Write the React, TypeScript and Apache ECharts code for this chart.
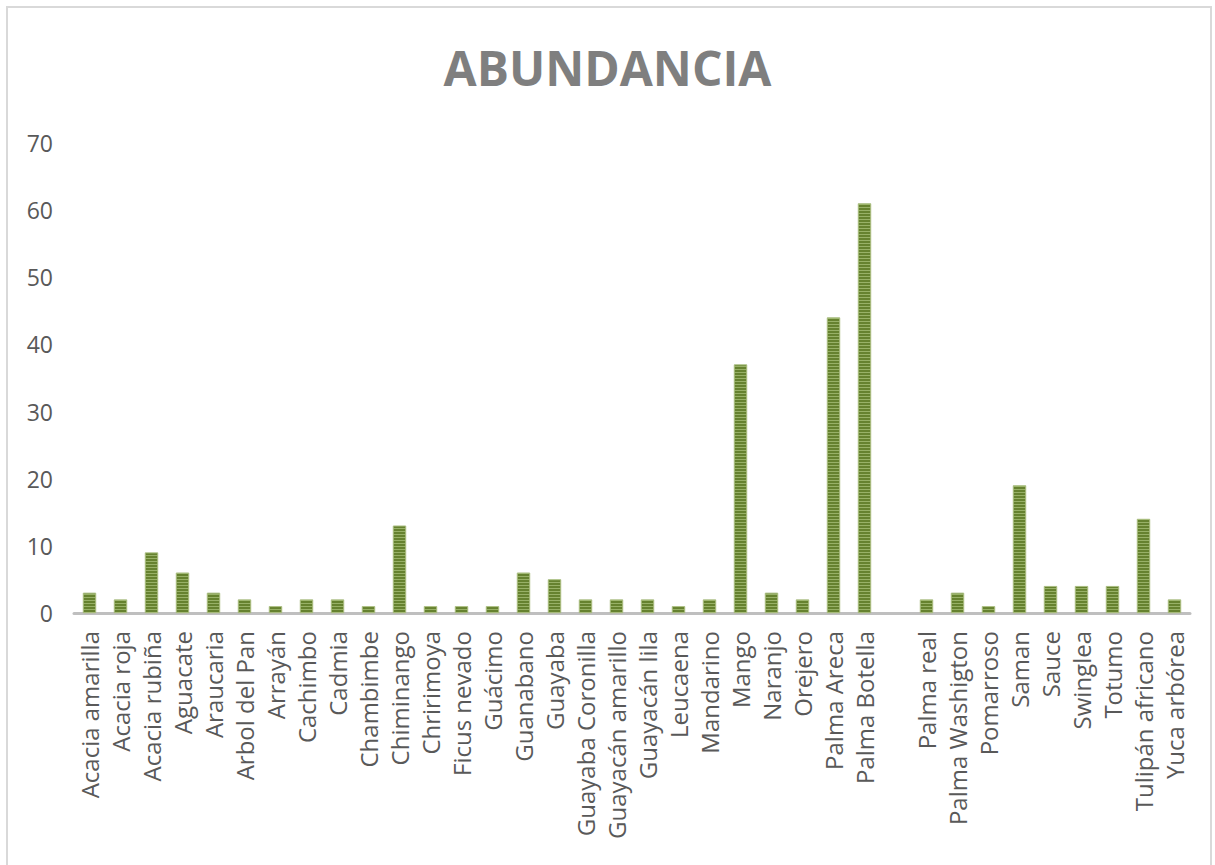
import React, { useEffect, useRef } from "react";
import * as echarts from "echarts";

const categories = [
  "Acacia amarilla", "Acacia roja", "Acacia rubiña", "Aguacate", "Araucaria",
  "Arbol del Pan", "Arrayán", "Cachimbo", "Cadmia", "Chambimbe", "Chiminango",
  "Chririmoya", "Ficus nevado", "Guácimo", "Guanabano", "Guayaba",
  "Guayaba Coronilla", "Guayacán amarillo", "Guayacán lila", "Leucaena",
  "Mandarino", "Mango", "Naranjo", "Orejero", "Palma Areca", "Palma Botella",
  "", "Palma real", "Palma Washigton", "Pomarroso", "Saman", "Sauce",
  "Swinglea", "Totumo", "Tulipán africano", "Yuca arbórea",
];

const values: (number | null)[] = [
  3, 2, 9, 6, 3,
  2, 1, 2, 2, 1, 13,
  1, 1, 1, 6, 5,
  2, 2, 2, 1,
  2, 37, 3, 2, 44, 61,
  null, 2, 3, 1, 19, 4,
  4, 4, 14, 2,
];

const yTicks = { min: 0, max: 70, interval: 10 };

export default function App() {
  const ref = useRef<HTMLDivElement>(null);
  useEffect(() => {
    if (!ref.current) return;
    const chart = echarts.init(ref.current, undefined, { renderer: "svg" });
    chart.setOption({
      animation: false,
      backgroundColor: "#ffffff",
      title: {
        text: "ABUNDANCIA",
        left: "center",
        top: 38,
        textStyle: {
          fontFamily: "Open Sans",
          fontWeight: "bold",
          fontSize: 48,
          color: "#7f7f7f",
        },
      },
      graphic: [
        {
          type: "rect",
          shape: { x: 7, y: 7, width: 1204, height: 900 },
          style: { fill: "none", stroke: "#d9d9d9", lineWidth: 2 },
          silent: true,
        },
      ],
      grid: { left: 74, right: 25, top: 143, bottom: 252, containLabel: false },
      xAxis: {
        type: "category",
        data: categories,
        axisLine: { show: true, lineStyle: { color: "#bfbfbf", width: 3 } },
        axisTick: { show: false },
        axisLabel: {
          interval: 0,
          rotate: 90,
          margin: 18,
          fontFamily: "Open Sans",
          fontSize: 24,
          color: "#595959",
        },
      },
      yAxis: {
        type: "value",
        min: yTicks.min,
        max: yTicks.max,
        interval: yTicks.interval,
        axisLine: { show: false },
        axisTick: { show: false },
        splitLine: { show: false },
        axisLabel: {
          margin: 21,
          fontFamily: "Open Sans",
          fontSize: 23,
          color: "#595959",
        },
      },
      series: [
        {
          type: "bar",
          data: values,
          barWidth: 13,
          itemStyle: {
            color: "#66822f",
            borderColor: "#a9bd80",
            borderWidth: 0.6,
            decal: {
              symbol: "rect",
              symbolSize: 1,
              color: "rgba(185,208,140,0.6)",
              dashArrayX: [1, 0],
              dashArrayY: [1, 2],
              rotation: 0,
            },
          },
        },
      ],
    });
    return () => chart.dispose();
  }, []);
  return (
    <div
      ref={ref}
      style={{ position: "absolute", left: 0, top: 0, width: 1215, height: 865 }}
    />
  );
}
